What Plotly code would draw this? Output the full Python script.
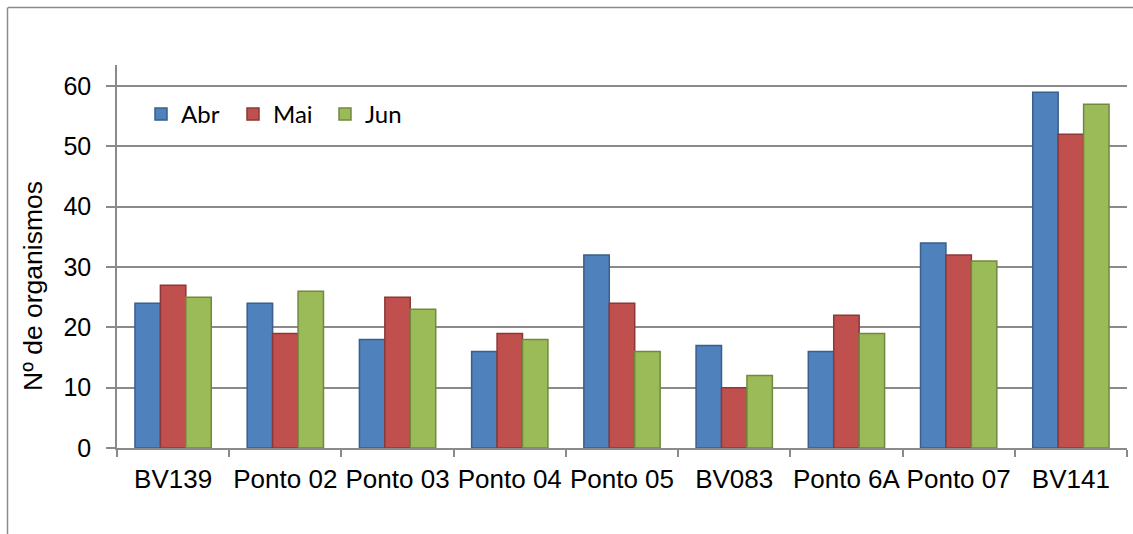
import plotly.graph_objects as go

# Sampling points and monthly organism counts
pontos = ["BV139", "Ponto 02", "Ponto 03", "Ponto 04", "Ponto 05",
          "BV083", "Ponto 6A", "Ponto 07", "BV141"]
abr = [24, 24, 18, 16, 32, 17, 16, 34, 59]
mai = [27, 19, 25, 19, 24, 10, 22, 32, 52]
jun = [25, 26, 23, 18, 16, 12, 19, 31, 57]

series = [
    ("Abr", abr, "#4f81bd", "#3a5f8b"),
    ("Mai", mai, "#c0504d", "#8c3836"),
    ("Jun", jun, "#9bbb59", "#71893f"),
]

W, H = 1133, 534
L, R, T, B = 117, 6, 65, 86
pw, ph = W - L - R, H - T - B

def px_x(x):
    return (x - L) / pw

def px_y(y):
    return (H - B - y) / ph

AXIS_FONT = "Liberation Sans, Arial, sans-serif"
GRID = "#8a8a8a"

fig = go.Figure()
for name, vals, fill, edge in series:
    fig.add_trace(go.Bar(
        x=pontos, y=vals, name=name,
        marker=dict(color=fill, line=dict(color=edge, width=1.5)),
    ))

fig.update_layout(
    width=W, height=H,
    margin=dict(l=L, r=R, t=T, b=B),
    paper_bgcolor="white", plot_bgcolor="white",
    barmode="group", bargap=0.32, bargroupgap=0,
    font=dict(family=AXIS_FONT, size=25, color="black"),
    legend=dict(
        orientation="h", x=px_x(141), y=px_y(92),
        xanchor="left", yanchor="top",
        font=dict(family="Lato, Carlito, Calibri, sans-serif", size=24),
        bgcolor="rgba(0,0,0,0)", itemwidth=30,
        entrywidth=47, entrywidthmode="pixels",
        tracegroupgap=0,
    ),
    showlegend=True,
)

fig.update_xaxes(
    type="category", tickson="boundaries", tickangle=0,
    ticks="outside", ticklen=7, tickcolor=GRID, tickwidth=1.5,
    showline=True, linecolor=GRID, linewidth=1.5,
    showgrid=False, tickfont=dict(size=26), ticklabelstandoff=7,
)
fig.update_yaxes(
    range=[0, 63.5], tickmode="array", tickvals=[0, 10, 20, 30, 40, 50, 60],
    ticks="outside", ticklen=9, tickcolor=GRID, tickwidth=1.5,
    showline=True, linecolor=GRID, linewidth=1.5,
    showgrid=True, gridcolor=GRID, gridwidth=1.5,
    zeroline=False, tickfont=dict(size=25), ticklabelstandoff=10,
)

# Y-axis caption
fig.add_annotation(
    text="Nº de organismos", textangle=-90,
    xref="paper", yref="paper", x=px_x(33), y=px_y(286),
    xanchor="center", yanchor="middle", showarrow=False,
    font=dict(family=AXIS_FONT, size=26.5, color="black"),
)

# Outer chart frame (top and left edges visible)
fig.add_shape(type="line", xref="paper", yref="paper",
              x0=px_x(8), x1=px_x(1140), y0=px_y(7.5), y1=px_y(7.5),
              line=dict(color=GRID, width=1.5))
fig.add_shape(type="line", xref="paper", yref="paper",
              x0=px_x(7.5), x1=px_x(7.5), y0=px_y(7.5), y1=px_y(540),
              line=dict(color=GRID, width=1.5))

fig.write_html("out.html")
